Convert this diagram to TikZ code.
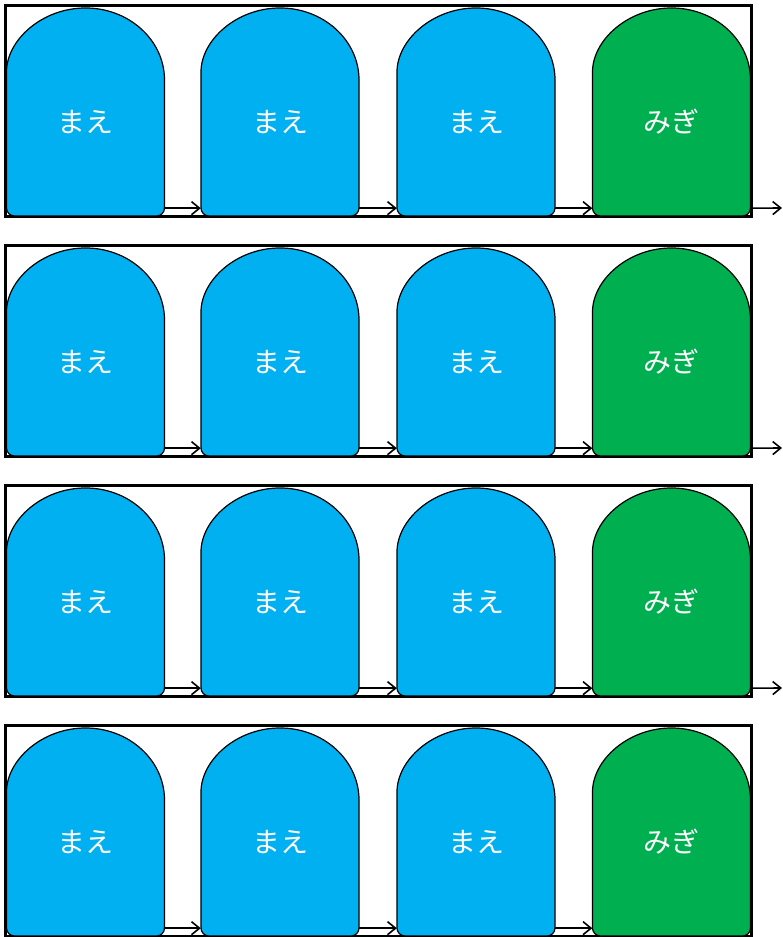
\documentclass[tikz,border=0pt]{standalone}
\usepackage{fontspec}
\newfontfamily\jpfont{Noto Sans CJK JP}
\usetikzlibrary{arrows.meta}
\definecolor{archblue}{HTML}{00B0F0}
\definecolor{archgreen}{HTML}{00B050}
\newcommand{\archtext}[1]{\raisebox{0pt}[\dimexpr\height+20pt\relax]{#1}}
\tikzset{
  frame/.style={draw=black, line width=3pt},
  archfill/.style={draw=black, line width=1.2pt},
  archnode/.style={minimum width=158pt, minimum height=208pt, inner sep=0pt, text=white, font=\jpfont\fontsize{28}{28}\selectfont},
  flow/.style={draw=black, line width=1.6pt, -{Straight Barb[length=8pt,width=13pt,line width=1.6pt]}}
}
\begin{document}
\begin{tikzpicture}[x=1pt,y=1pt]
\useasboundingbox (0,0) rectangle (782,937);
\foreach \r in {0,1,2,3}{
  \pgfmathsetmacro{\B}{937-216-240*\r}
  \pgfmathsetmacro{\T}{\B+208}
  \pgfmathsetmacro{\Ft}{937-6-240*\r}
  \pgfmathsetmacro{\Fb}{937-217-240*\r}
  \draw[frame] (5,\Fb) rectangle (751,\Ft);
  \foreach \c/\L/\col/\txt in {0/6.5/archblue/まえ,1/201/archblue/まえ,2/397/archblue/まえ,3/592.5/archgreen/みぎ}{
    \pgfmathsetmacro{\R}{\L+158}
    \pgfmathsetmacro{\M}{\T-72}
    \filldraw[archfill, fill=\col] (\L,\M) arc[start angle=180, end angle=0, x radius=79, y radius=72]
      [rounded corners=8pt] -- (\R,\B) -- (\L,\B) -- cycle;
    \node[archnode] (n-\r-\c) at ({\L+79},{\B+104}) {\archtext{\txt}};
  }
  \draw[flow] ([yshift=8pt]n-\r-0.south east) -- ([yshift=8pt]n-\r-1.south west);
  \draw[flow] ([yshift=8pt]n-\r-1.south east) -- ([yshift=8pt]n-\r-2.south west);
  \draw[flow] ([yshift=8pt]n-\r-2.south east) -- ([yshift=8pt]n-\r-3.south west);
}
\coordinate (out0) at (782,{937-208});
\coordinate (out1) at (782,{937-208-240});
\coordinate (out2) at (782,{937-208-480});
\draw[flow] ([yshift=8pt]n-0-3.south east) -- (out0);
\draw[flow] ([yshift=8pt]n-1-3.south east) -- (out1);
\draw[flow] ([yshift=8pt]n-2-3.south east) -- (out2);
\end{tikzpicture}
\end{document}
